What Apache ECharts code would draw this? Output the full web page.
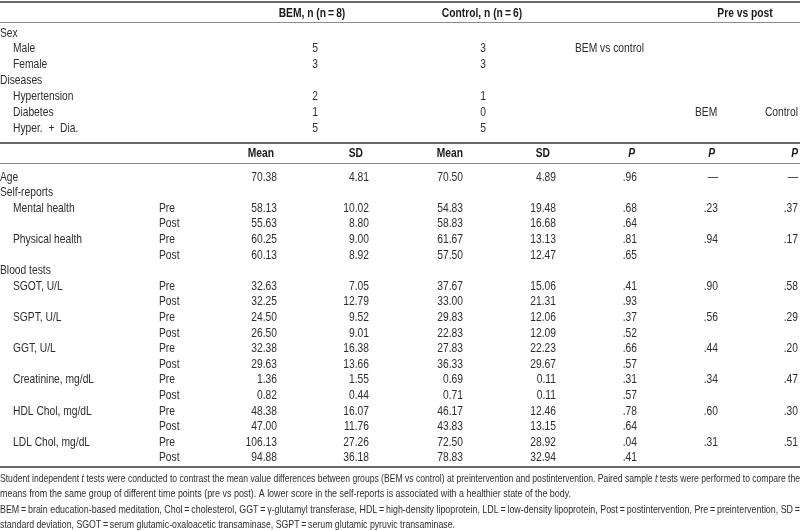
<!DOCTYPE html>
<html>
<head>
<meta charset="utf-8">
<script src="https://cdn.jsdelivr.net/npm/echarts@6/dist/echarts.min.js"></script>
<style>
  html, body { margin: 0; padding: 0; background: #fff; }
  #chart { width: 800px; height: 531px; }
</style>
</head>
<body>
<div id="chart"></div>
<script>
// ---- data ----
const groupHeaders = ['BEM, n (n\u2009=\u20098)', 'Control, n (n\u2009=\u20096)', 'Pre vs post']
const demoRows = ['Sex', 'Male', 'Female', 'Diseases', 'Hypertension', 'Diabetes', 'Hyper.  +  Dia.']
const demoIndent = [0, 1, 1, 0, 1, 1, 1]
const bemCounts = [null, 5, 3, null, 2, 1, 5]
const controlCounts = [null, 3, 3, null, 1, 0, 5]

const statHeaders = ['Mean', 'SD', 'Mean', 'SD', 'P', 'P', 'P']

const measures = ['Age', 'Self-reports', 'Mental health', '', 'Physical health', '', 'Blood tests',
  'SGOT, U/L', '', 'SGPT, U/L', '', 'GGT, U/L', '', 'Creatinine, mg/dL', '', 'HDL Chol, mg/dL', '', 'LDL Chol, mg/dL', '']
const measureIndent = [0, 0, 1, 1, 1, 1, 0, 1, 1, 1, 1, 1, 1, 1, 1, 1, 1, 1, 1]
const phases = ['', '', 'Pre', 'Post', 'Pre', 'Post', '', 'Pre', 'Post', 'Pre', 'Post', 'Pre', 'Post', 'Pre', 'Post', 'Pre', 'Post', 'Pre', 'Post']
const bemMean = [70.38, null, 58.13, 55.63, 60.25, 60.13, null, 32.63, 32.25, 24.50, 26.50, 32.38, 29.63, 1.36, 0.82, 48.38, 47.00, 106.13, 94.88]
const bemSD = [4.81, null, 10.02, 8.80, 9.00, 8.92, null, 7.05, 12.79, 9.52, 9.01, 16.38, 13.66, 1.55, 0.44, 16.07, 11.76, 27.26, 36.18]
const ctlMean = [70.50, null, 54.83, 58.83, 61.67, 57.50, null, 37.67, 33.00, 29.83, 22.83, 27.83, 36.33, 0.69, 0.71, 46.17, 43.83, 72.50, 78.83]
const ctlSD = [4.89, null, 19.48, 16.68, 13.13, 12.47, null, 15.06, 21.31, 12.06, 12.09, 22.23, 29.67, 0.11, 0.11, 12.46, 13.15, 28.92, 32.94]
const pGroups = [0.96, null, 0.68, 0.64, 0.81, 0.65, null, 0.41, 0.93, 0.37, 0.52, 0.66, 0.57, 0.31, 0.57, 0.78, 0.64, 0.04, 0.41]
const pBem = ['—', null, 0.23, null, 0.94, null, null, 0.90, null, 0.56, null, 0.44, null, 0.34, null, 0.60, null, 0.31, null]
const pControl = ['—', null, 0.37, null, 0.17, null, null, 0.58, null, 0.29, null, 0.20, null, 0.47, null, 0.30, null, 0.51, null]

const footnotes = [
  'Student independent {i|t} tests were conducted to contrast the mean value differences between groups (BEM vs control) at preintervention and postintervention. Paired sample {i|t} tests were performed to compare the',
  'means from the same group of different time points (pre vs post). A lower score in the self-reports is associated with a healthier state of the body.',
  'BEM\u2009=\u2009brain education-based meditation, Chol\u2009=\u2009cholesterol, GGT\u2009=\u2009\u03b3-glutamyl transferase, HDL\u2009=\u2009high-density lipoprotein, LDL\u2009=\u2009low-density lipoprotein, Post\u2009=\u2009postintervention, Pre\u2009=\u2009preintervention, SD\u2009=',
  'standard deviation, SGOT\u2009=\u2009serum glutamic-oxaloacetic transaminase, SGPT\u2009=\u2009serum glutamic pyruvic transaminase.'
]

// ---- layout ----
const FONT = "'Liberation Sans', Arial, sans-serif"
const NARROW = 0.79 // squeeze Arial-like glyphs down to a condensed face
const INK = '#2e2e2e'
const headerY = 13
const demoY = demoRows.map((_, i) => 33 + i * 15.9)
const statHeaderY = 153.5
const rowY = measures.map((_, i) => 177 + i * 15.6)
const footY = [479, 494.5, 510, 525.5]
const footWidth = [800, 571, 800, 455]
const rules = [[1.5, 2], [22, 1], [142.5, 2], [163.5, 1], [467, 2]]

const fmt2 = v => (v == null ? '' : v.toFixed(2))
const fmtP = v => (v == null ? '' : typeof v === 'string' ? v : v.toFixed(2).replace(/^0/, ''))

// one column of cell texts, placed through the cartesian coords
const textCol = (xs, ys, texts, align, extra) => {
  const data = []
  texts.forEach((t, i) => {
    if (t === null || t === '') return
    const x = typeof xs === 'function' ? xs(i) : xs
    data.push([x, ys[i], String(t)])
  })
  const st = extra || {}
  return {
    type: 'custom',
    silent: true,
    data,
    renderItem: (params, api) => {
      const d = data[params.dataIndex]
      const pt = api.coord([d[0], d[1]])
      const italic = st.italicOf ? st.italicOf(d[2]) : false
      return {
        type: 'text',
        x: pt[0],
        y: pt[1],
        scaleX: NARROW,
        style: {
          text: d[2],
          align,
          verticalAlign: 'middle',
          fill: st.color || INK,
          fontFamily: FONT,
          fontSize: 13,
          fontWeight: st.fontWeight || 'normal',
          fontStyle: italic ? 'italic' : 'normal'
        }
      }
    }
  }
}

const bold = { fontWeight: 'bold', color: '#1a1a1a', italicOf: t => t === 'P' }
const statRight = [277, 369, 463, 556, 637, 718, 798]
const statHeadRight = [274, 363, 463, 550, 635, 715, 798]

// holder for the table rules
const rulesSeries = {
  type: 'scatter',
  symbolSize: 0,
  silent: true,
  data: [],
  markLine: {
    silent: true,
    symbol: ['none', 'none'],
    label: { show: false },
    data: rules.map(r => ({ yAxis: r[0], lineStyle: { width: r[1], color: r[1] > 1 ? '#686868' : '#8c8c8c', type: 'solid' } }))
  }
}

const series = [
  rulesSeries,
  textCol(i => [312, 482, 745][i], [headerY, headerY, headerY], groupHeaders, 'center', bold),
  textCol(i => (demoIndent[i] ? 13 : 0), demoY, demoRows, 'left'),
  textCol(315, demoY, bemCounts, 'center'),
  textCol(483, demoY, controlCounts, 'center'),
  textCol(575, demoY, [null, 'BEM vs control', null, null, null, null, null], 'left'),
  textCol(695, demoY, [null, null, null, null, null, 'BEM', null], 'left'),
  textCol(798, demoY, [null, null, null, null, null, 'Control', null], 'right'),
  textCol(i => statHeadRight[i], statHeaders.map(() => statHeaderY), statHeaders, 'right', bold),
  textCol(i => (measureIndent[i] ? 13 : 0), rowY, measures, 'left'),
  textCol(159, rowY, phases, 'left'),
  textCol(statRight[0], rowY, bemMean.map(fmt2), 'right'),
  textCol(statRight[1], rowY, bemSD.map(fmt2), 'right'),
  textCol(statRight[2], rowY, ctlMean.map(fmt2), 'right'),
  textCol(statRight[3], rowY, ctlSD.map(fmt2), 'right'),
  textCol(statRight[4], rowY, pGroups.map(fmtP), 'right'),
  textCol(statRight[5], rowY, pBem.map(fmtP), 'right'),
  textCol(statRight[6], rowY, pControl.map(fmtP), 'right')
]

// footnote, stretched to the justified width
const ctx = document.createElement('canvas').getContext('2d')
ctx.font = '10.5px ' + FONT
const graphic = footnotes.map((t, i) => {
  const plain = t.replace(/\{i\|(.*?)\}/g, '$1')
  const w = ctx.measureText(plain).width
  return {
    type: 'text',
    x: 0,
    y: footY[i],
    scaleX: footWidth[i] / w,
    silent: true,
    style: {
      text: t,
      fill: INK,
      font: '10.5px ' + FONT,
      verticalAlign: 'middle',
      rich: { i: { fontStyle: 'italic', fontFamily: FONT, fontSize: 10.5, fill: INK } }
    }
  }
})

const chart = echarts.init(document.getElementById('chart'))
chart.setOption({
  animation: false,
  grid: { left: 0, right: 0, top: 0, bottom: 0 },
  xAxis: { type: 'value', min: 0, max: 800, show: false },
  yAxis: { type: 'value', min: 0, max: 531, inverse: true, show: false },
  series,
  graphic
})
</script>
</body>
</html>
